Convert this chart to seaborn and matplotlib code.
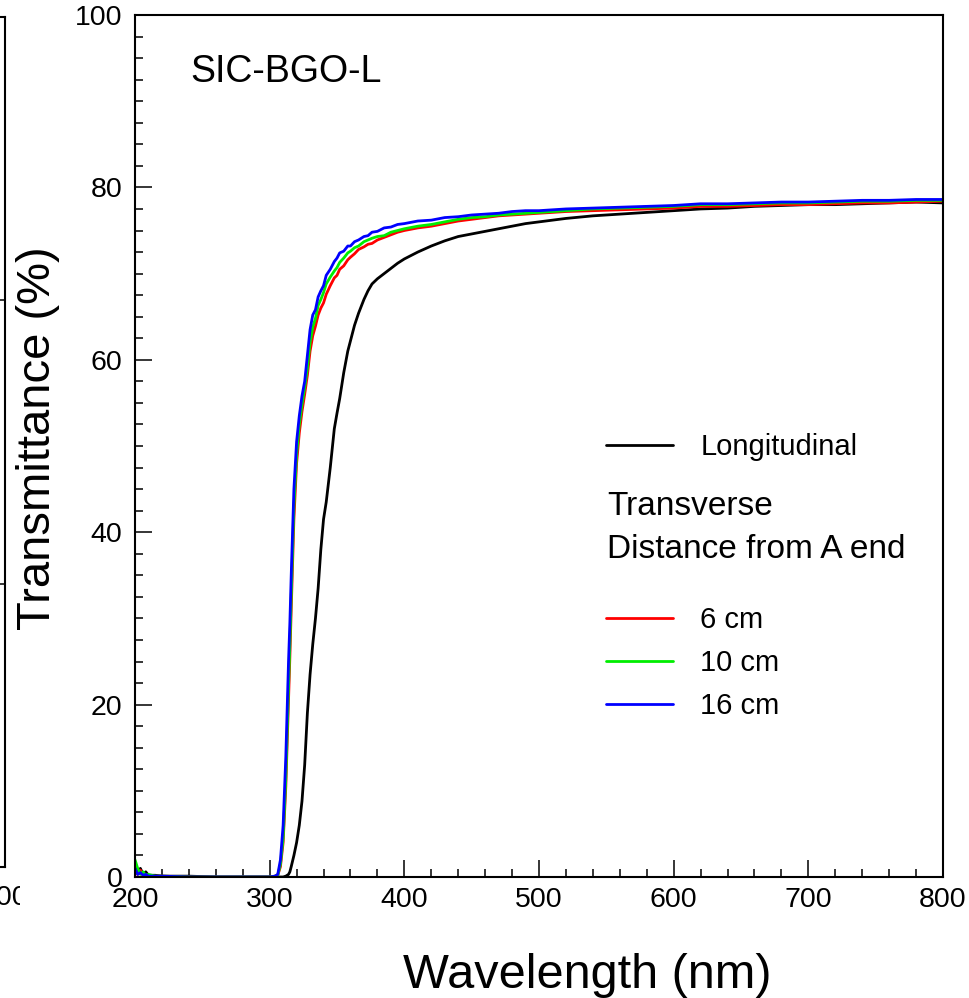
import numpy as np
import pandas as pd
import matplotlib
matplotlib.use("Agg")
import matplotlib.pyplot as plt
from matplotlib.ticker import MultipleLocator
from matplotlib.transforms import Bbox, TransformedBbox
import seaborn as sns

# Transmittance spectra of the SIC-BGO-L crystal
wavelength = [200, 202, 204, 206, 208, 210, 215, 220, 240, 260, 280, 300,
              304, 306, 308, 310, 312, 314, 315, 316, 318, 320,
              322, 324, 326, 328, 330, 332, 334, 336, 338, 340,
              342, 345, 348, 350, 352, 355, 358, 360,
              363, 366, 370, 373, 376, 380, 385, 390, 395, 400,
              410, 420, 430, 440, 450, 460, 470, 480, 490, 500,
              520, 540, 560, 580, 600, 620, 640, 660, 680, 700,
              720, 740, 760, 780, 800]

longitudinal = [1.3, 0.4, 1.0, 0.3, 0.6, 0.2, 0.2, 0.1, 0.1, 0.0, 0.0, 0.0,
                0.0, 0.0, 0.0, 0.0, 0.1, 0.3, 0.6, 1.2, 2.5, 4.0,
                6.0, 8.8, 13.0, 19.0, 23.5, 27.0, 30.0, 33.5, 38.0, 41.5,
                43.5, 47.5, 52.0, 53.8, 55.5, 58.5, 61.0, 62.2,
                64.0, 65.4, 67.0, 68.0, 68.8, 69.4, 70.0, 70.6, 71.2, 71.7,
                72.5, 73.2, 73.8, 74.3, 74.6, 74.9, 75.2, 75.5, 75.8, 76.0,
                76.4, 76.7, 76.9, 77.1, 77.3, 77.5, 77.6, 77.8, 77.9, 78.0,
                78.0, 78.1, 78.2, 78.3, 78.2]

transverse_6cm = [0.6, 0.3, 0.8, 0.2, 0.3, 0.1, 0.1, 0.1, 0.0, 0.0, 0.0, 0.0,
                  0.1, 0.2, 1.2, 4.0, 10.5, 20.5, 25.5, 31.0, 41.5, 48.0,
                  51.5, 54.0, 56.0, 58.2, 61.0, 62.8, 63.9, 65.2, 66.0, 66.6,
                  67.6, 68.6, 69.5, 69.8, 70.5, 70.9, 71.6, 71.9,
                  72.3, 72.8, 73.1, 73.4, 73.5, 73.9, 74.2, 74.5, 74.8, 75.0,
                  75.3, 75.5, 75.8, 76.1, 76.3, 76.5, 76.7, 76.8, 76.9, 77.0,
                  77.2, 77.3, 77.4, 77.5, 77.6, 77.8, 77.8, 77.9, 78.0, 78.0,
                  78.1, 78.2, 78.2, 78.3, 78.4]

transverse_10cm = [2.0, 1.0, 0.3, 0.6, 0.2, 0.3, 0.1, 0.1, 0.0, 0.0, 0.0, 0.0,
                   0.1, 0.2, 1.5, 4.5, 11.5, 22.0, 27.0, 32.5, 43.0, 49.0,
                   52.5, 54.8, 56.8, 59.0, 62.0, 63.8, 64.8, 66.3, 67.0, 67.8,
                   68.8, 69.6, 70.3, 70.7, 71.3, 71.8, 72.4, 72.6,
                   73.0, 73.2, 73.7, 73.9, 74.1, 74.3, 74.4, 74.8, 75.0, 75.2,
                   75.5, 75.7, 76.0, 76.3, 76.5, 76.6, 76.8, 76.9, 77.0, 77.1,
                   77.3, 77.5, 77.6, 77.7, 77.8, 78.0, 78.0, 78.1, 78.2, 78.2,
                   78.3, 78.4, 78.4, 78.5, 78.5]

transverse_16cm = [1.0, 0.3, 0.5, 0.2, 0.3, 0.1, 0.1, 0.1, 0.0, 0.0, 0.0, 0.0,
                   0.1, 0.3, 2.0, 6.0, 14.0, 25.0, 29.5, 35.0, 45.0, 50.5,
                   53.5, 55.8, 57.5, 60.5, 63.5, 65.2, 65.8, 67.3, 68.0, 68.6,
                   69.8, 70.5, 71.4, 71.8, 72.4, 72.6, 73.2, 73.2,
                   73.7, 73.9, 74.3, 74.4, 74.8, 74.9, 75.3, 75.4, 75.7, 75.8,
                   76.1, 76.2, 76.5, 76.6, 76.8, 76.9, 77.0, 77.2, 77.3, 77.3,
                   77.5, 77.6, 77.7, 77.8, 77.9, 78.1, 78.1, 78.2, 78.3, 78.3,
                   78.4, 78.5, 78.5, 78.6, 78.6]

series_names = ["Longitudinal", "6 cm", "10 cm", "16 cm"]
series_colors = ["#000000", "#ff0000", "#00ee00", "#0000ff"]
series_values = [longitudinal, transverse_6cm, transverse_10cm, transverse_16cm]

x_ticks = [200, 300, 400, 500, 600, 700, 800]
y_ticks = [0, 20, 40, 60, 80, 100]

frames = []
for name, vals in zip(series_names, series_values):
    frames.append(pd.DataFrame({"wavelength": wavelength,
                                "transmittance": vals,
                                "sample": name}))
df = pd.concat(frames, ignore_index=True)

sns.set_theme(style="ticks")
plt.rcParams["font.family"] = ["Liberation Sans", "DejaVu Sans"]
plt.rcParams["text.color"] = "black"
plt.rcParams["axes.labelcolor"] = "black"
plt.rcParams["xtick.color"] = "black"
plt.rcParams["ytick.color"] = "black"

W, H = 970, 998
fig = plt.figure(figsize=(W / 100, H / 100), dpi=100)
fig.patch.set_facecolor("white")

# Main panel
ax = fig.add_axes([135 / W, 1 - 877 / H, 808 / W, 862 / H])
sns.lineplot(data=df, x="wavelength", y="transmittance", hue="sample",
             hue_order=series_names, palette=series_colors, ax=ax,
             linewidth=2.0, legend=False, sort=False)

ax.set_xlim(200, 800)
ax.set_ylim(0, 100)
ax.set_xticks(x_ticks)
ax.set_yticks(y_ticks)
ax.xaxis.set_minor_locator(MultipleLocator(20))
ax.yaxis.set_minor_locator(MultipleLocator(2.5))
ax.tick_params(which="both", direction="in", top=False, right=False,
               color="black", width=1.1)
ax.tick_params(which="major", length=12, labelsize=20.5, labelcolor="black")
ax.tick_params(which="minor", length=6)
ax.tick_params(axis="y", which="major", pad=9)
ax.tick_params(axis="x", which="major", pad=7)
for s in ax.spines.values():
    s.set_visible(True)
    s.set_linewidth(1.5)
    s.set_color("black")

ax.set_xlabel("Wavelength (nm)", fontsize=35, color="black")
ax.set_ylabel("Transmittance (%)", fontsize=34, color="black")
ax.xaxis.set_label_coords(0.56, -0.088)
ax.yaxis.set_label_coords(-0.093, 0.509)

ax.text(0.068, 0.934, "SIC-BGO-L", transform=ax.transAxes, fontsize=27,
        ha="left", va="center", color="black")

# Legends
lines = ax.get_lines()
leg1 = ax.legend([lines[0]], [series_names[0]], loc="center left",
                 bbox_to_anchor=(0.583, 0.499), frameon=False, fontsize=21,
                 handlelength=2.3, handletextpad=0.93, borderpad=0,
                 borderaxespad=0)
for h in leg1.legend_handles:
    h.set_linewidth(2.0)
ax.add_artist(leg1)

ax.text(0.5842, 0.4300, "Transverse", transform=ax.transAxes, fontsize=24,
        ha="left", va="center", color="black")
ax.text(0.5842, 0.3800, "Distance from A end", transform=ax.transAxes,
        fontsize=24, ha="left", va="center", color="black")

leg2 = ax.legend(lines[1:4], series_names[1:4], loc="center left",
                 bbox_to_anchor=(0.583, 0.2483), frameon=False, fontsize=21,
                 handlelength=2.3, handletextpad=0.93, borderpad=0,
                 borderaxespad=0, labelspacing=0.52)
for h in leg2.legend_handles:
    h.set_linewidth(2.0)

# Edge of the neighbouring panel on the left
ax0 = fig.add_axes([-0.3, 1 - 867 / H, 0.3 + 5 / W, 850 / H])
ax0.set_xlim(0, 1)
ax0.set_ylim(0, 1)
ax0.set_xticks([])
ax0.set_yticks([1 / 3, 2 / 3])
ax0.yaxis.tick_right()
ax0.tick_params(axis="y", direction="in", length=12, width=1.1,
                labelright=False, labelleft=False, color="black")
for s in ax0.spines.values():
    s.set_linewidth(1.5)
    s.set_color("black")
t = fig.text(5 / W, 1 - 898 / H, "800", ha="center", va="center",
             fontsize=20.5, color="black")
t.set_clip_on(True)
t.set_clip_box(TransformedBbox(Bbox([[0, 0], [20 / W, 1]]), fig.transFigure))

fig.savefig("out.png", dpi=100, facecolor="white")
